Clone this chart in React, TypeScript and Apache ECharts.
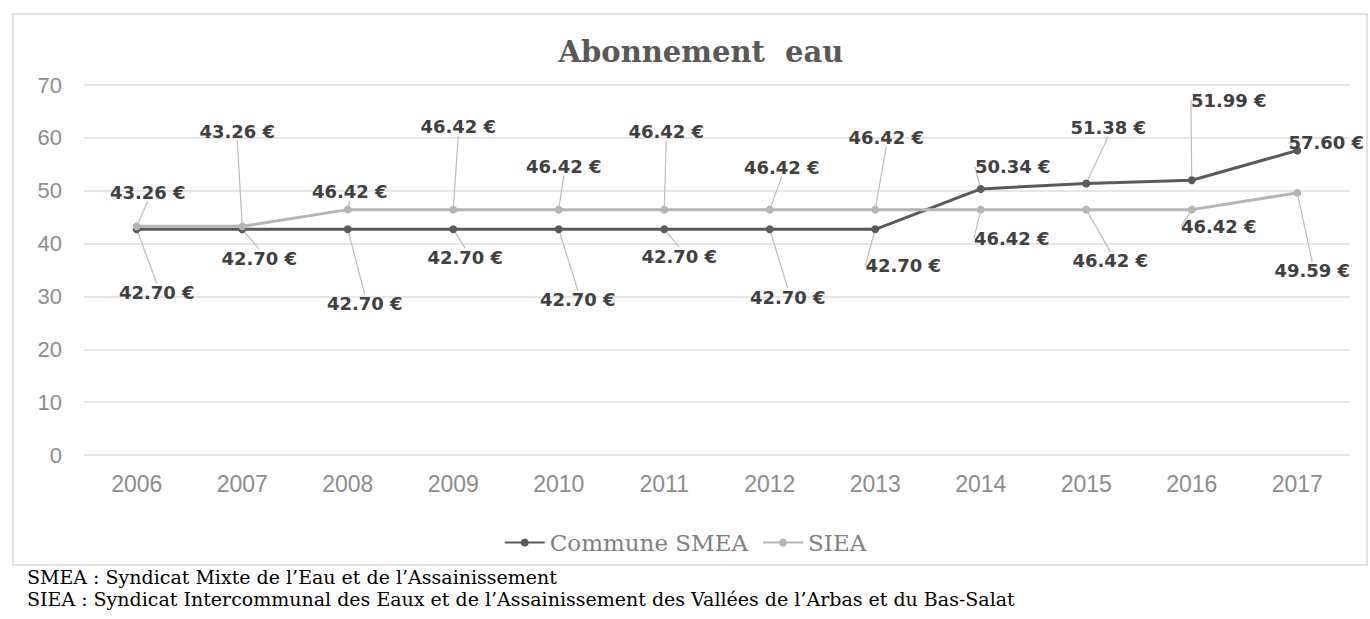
import React, { useEffect, useRef } from "react";
import * as echarts from "echarts";

const years = ["2006", "2007", "2008", "2009", "2010", "2011", "2012", "2013", "2014", "2015", "2016", "2017"];
const smeaValues = [42.7, 42.7, 42.7, 42.7, 42.7, 42.7, 42.7, 42.7, 50.34, 51.38, 51.99, 57.6];
const sieaValues = [43.26, 43.26, 46.42, 46.42, 46.42, 46.42, 46.42, 46.42, 46.42, 46.42, 46.42, 49.59];
const seriesNames = ["Commune SMEA", "SIEA"];
const titleText = "Abonnement  eau";
const footnotes = [
  "SMEA : Syndicat Mixte de l’Eau et de l’Assainissement",
  "SIEA : Syndicat Intercommunal des Eaux et de l’Assainissement des Vallées de l’Arbas et du Bas-Salat",
];

// label offsets (layout only): from point to label centre
const smeaLabelOffsets = [
  [20, 63], [17, 29], [17, 74], [12, 28], [19, 70], [15, 27], [18, 68], [28, 36], [32, -22], [22, -56], [37, -80], [29, -8],
];
const sieaLabelOffsets = [
  [11, -34], [-5, -95], [2, -18], [5, -83], [5, -43], [2, -78], [12, -42], [11, -72], [31, 29], [24, 51], [27, 17], [15, 78],
];

export default function App() {
  const ref = useRef<HTMLDivElement>(null);
  useEffect(() => {
    document.body.style.margin = "0";
    const chart = echarts.init(ref.current!, null, { renderer: "svg" });
    const labelFont = {
      fontFamily: "DejaVu Sans",
      fontWeight: "bold" as const,
      fontSize: 18,
      color: "#404040",
    };
    const fmt = (p: any) => p.value.toFixed(2) + " €";
    chart.setOption({
      animation: false,
      backgroundColor: "#ffffff",
      title: {
        text: titleText,
        left: 696,
        top: 32,
        textAlign: "center",
        textStyle: { fontFamily: "DejaVu Serif", fontWeight: "bold", fontSize: 29, color: "#595959" },
      },
      legend: {
        data: seriesNames,
        left: "center",
        top: 526,
        itemWidth: 40,
        itemHeight: 10,
        itemGap: 14,
        textStyle: { fontFamily: "DejaVu Serif", fontSize: 23, color: "#7f7f7f" },
      },
      grid: { left: 84, right: 20, top: 85, bottom: 164 },
      xAxis: {
        type: "category",
        data: years,
        boundaryGap: true,
        axisLine: { show: false },
        axisTick: { show: false },
        axisLabel: { fontFamily: "Liberation Sans", fontSize: 23, color: "#8c8c8c", margin: 17 },
      },
      yAxis: {
        type: "value",
        min: 0,
        max: 70,
        interval: 10,
        axisLine: { show: false },
        axisTick: { show: false },
        axisLabel: { fontFamily: "Liberation Sans", fontSize: 22, color: "#8c8c8c", margin: 22 },
        splitLine: { lineStyle: { color: "#e6e6e6", width: 2 } },
      },
      series: [
        {
          name: seriesNames[0],
          type: "line",
          data: smeaValues,
          symbol: "circle",
          symbolSize: 8,
          itemStyle: { color: "#5a5a5a" },
          lineStyle: { color: "#5a5a5a", width: 3 },
          label: { show: true, position: "inside", ...labelFont, formatter: fmt },
          labelLine: { show: true, length2: 0, lineStyle: { color: "#bdbdbd", width: 1.2 } },
          labelLayout: (params: any) => {
            const o = smeaLabelOffsets[params.dataIndex];
            return { dx: o[0], dy: o[1] };
          },
          z: 2,
        },
        {
          name: seriesNames[1],
          type: "line",
          data: sieaValues,
          symbol: "circle",
          symbolSize: 8,
          itemStyle: { color: "#b5b5b5" },
          lineStyle: { color: "#b5b5b5", width: 3 },
          label: { show: true, position: "inside", ...labelFont, formatter: fmt },
          labelLine: { show: true, length2: 0, lineStyle: { color: "#bdbdbd", width: 1.2 } },
          labelLayout: (params: any) => {
            const o = sieaLabelOffsets[params.dataIndex];
            return { dx: o[0], dy: o[1] };
          },
          z: 3,
        },
      ],
      graphic: [
        {
          type: "rect",
          shape: { x: 13, y: 14, width: 1354, height: 551 },
          style: { fill: "none", stroke: "#d9d9d9", lineWidth: 1.5 },
          z: -1,
          silent: true,
        },
        {
          type: "text",
          x: 27,
          y: 567,
          style: { text: footnotes[0], fontFamily: "DejaVu Serif", fontSize: 19, fill: "#000000" },
        },
        {
          type: "text",
          x: 27,
          y: 589,
          style: { text: footnotes[1], fontFamily: "DejaVu Serif", fontSize: 19, fill: "#000000" },
        },
      ],
    });
    return () => chart.dispose();
  }, []);
  return <div ref={ref} style={{ width: 1370, height: 619 }} />;
}
